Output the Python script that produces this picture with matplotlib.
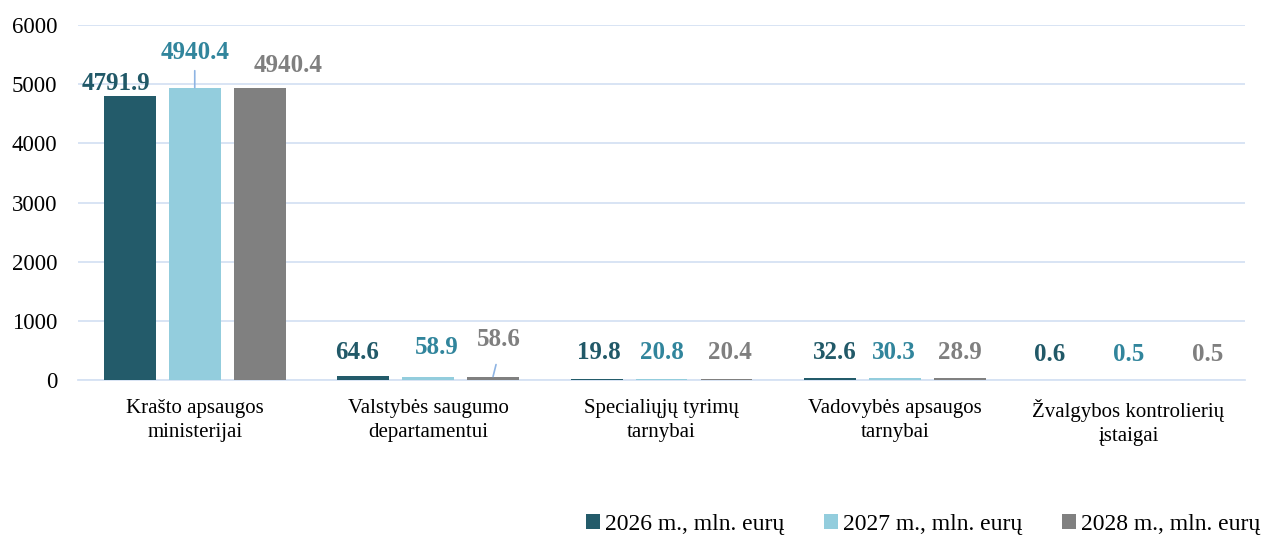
import numpy as np
import matplotlib

matplotlib.use('Agg')
import matplotlib.pyplot as plt

plt.rcParams['font.family'] = ['Liberation Serif', 'DejaVu Serif']

categories = ['Krašto apsaugos\nministerijai', 'Valstybės saugumo\ndepartamentui',
              'Specialiųjų tyrimų\ntarnybai', 'Vadovybės apsaugos\ntarnybai',
              'Žvalgybos kontrolierių\nįstaigai']
series_names = ['2026 m., mln. eurų', '2027 m., mln. eurų', '2028 m., mln. eurų']
v2026 = [4791.9, 64.6, 19.8, 32.6, 0.6]
v2027 = [4940.4, 58.9, 20.8, 30.3, 0.5]
v2028 = [4940.4, 58.6, 20.4, 28.9, 0.5]

bar_colors = ['#235B6A', '#93CDDD', '#808080']
text_colors = ['#215968', '#31859C', '#7F7F7F']
grid_color = '#D6E2F3'
leader_color = '#8EB4E3'

# label offsets in pixels (dx, dy) from bar top, hand-placed like in the original
offsets = [
    [(-14, 13), (-6, 24), (2, 26), (5, 26), (-14, 25)],
    [(0, 35), (9, 29), (0, 26), (-1, 26), (0, 25)],
    [(28, 22), (6, 37), (3, 26), (0, 26), (14, 25)],
]

fig = plt.figure(figsize=(12.67, 5.36), dpi=100)
ax = fig.add_axes([0.0616, 0.291, 0.9211, 0.6624])

x = np.arange(len(categories))
w = 0.222
step = 0.278
series = [v2026, v2027, v2028]
for i, vals in enumerate(series):
    pos = x + (i - 1) * step
    ax.bar(pos, vals, width=w, color=bar_colors[i], label=series_names[i], zorder=3)
    for j, v in enumerate(vals):
        dx, dy = offsets[i][j]
        ax.annotate('{0:.1f}'.format(v), xy=(pos[j], v), xytext=(dx, dy),
                    textcoords='offset pixels', ha='center', va='center',
                    fontsize=18, fontweight='bold', color=text_colors[i], zorder=4)

# leader lines for the labels moved away from their bars
ax.annotate('', xy=(x[0], v2027[0]), xytext=(0, 17), textcoords='offset pixels',
            arrowprops=dict(arrowstyle='-', color=leader_color, lw=1.2, shrinkA=0, shrinkB=0))
ax.annotate('', xy=(x[1] + step, v2028[1]), xytext=(3, 12), textcoords='offset pixels',
            arrowprops=dict(arrowstyle='-', color=leader_color, lw=1.2, shrinkA=0, shrinkB=0))

ax.set_ylim(0, 6000)
ax.set_xlim(-0.5, len(categories) - 0.5)
ax.set_yticks(np.arange(0, 6001, 1000))
ax.set_xticks(x)
ax.set_xticklabels(categories, fontsize=15, linespacing=1.32)
ax.tick_params(axis='y', labelsize=16.5, length=0, pad=15)
ax.tick_params(axis='x', length=0, pad=14)
ax.grid(axis='y', color=grid_color, lw=1.3, zorder=0)
for s in ['left', 'right', 'top']:
    ax.spines[s].set_visible(False)
ax.spines['bottom'].set_color(grid_color)
ax.spines['bottom'].set_linewidth(1.3)

fig.legend(loc='lower right', bbox_to_anchor=(1.0115, -0.037), ncol=3, frameon=False,
           fontsize=17, handlelength=0.6, handleheight=0.6, handletextpad=0.2,
           columnspacing=1.7)

fig.savefig('out.png', dpi=100)
